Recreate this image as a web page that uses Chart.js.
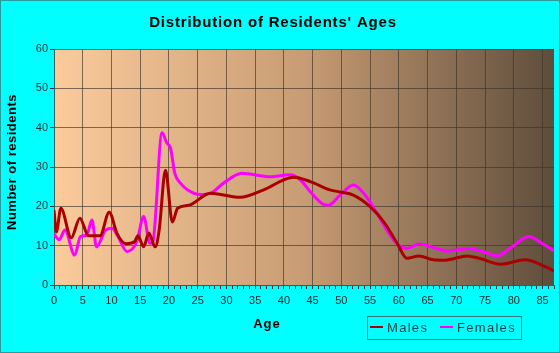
<!DOCTYPE html>
<html>
<head>
<meta charset="utf-8">
<script src="https://cdn.jsdelivr.net/npm/chart.js@4/dist/chart.umd.min.js"></script>
<style>
	html, body { margin: 0; padding: 0; background: #00ffff; }
	#wrap { width: 560px; height: 353px; }
</style>
</head>
<body>
<div id="wrap"><canvas id="graph" width="560" height="353"></canvas></div>
<script>
const maleAges = [0, 0.4, 1.2, 3, 4.5, 6, 8, 9.6, 11, 12.5, 14, 14.6, 15.6, 16.5, 17.6, 18.3, 19.4, 20.6, 21.5, 23.5, 27.2, 29, 32.4, 36.5, 41.7, 44.6, 48, 50, 52, 55, 57.4, 59.7, 61.4, 63.5, 66, 68, 71.9, 74, 77.7, 82, 85, 87];
const maleValues = [19, 13.5, 19.5, 12, 17, 12.5, 12.5, 18.5, 13, 10.5, 11, 12.5, 9.7, 13.2, 9.7, 14, 29.2, 16, 19.5, 20.3, 23.3, 23, 22.3, 24.2, 27.4, 26.3, 24.2, 23.6, 22.9, 19.9, 16, 10.6, 6.8, 7.4, 6.4, 6.3, 7.4, 6.8, 5.3, 6.4, 5, 3.6];

const femaleAges = [0, 0.9, 1.9, 3.6, 4.6, 5.7, 6.6, 7.4, 9, 10.1, 11, 12.7, 14.4, 15.6, 16.7, 17.2, 18.8, 19.6, 20.3, 21, 22, 23.4, 25.4, 27.2, 29.5, 32.7, 37.6, 41, 42.9, 44.6, 46.9, 47.8, 49.8, 52.1, 53.9, 56.2, 59.1, 61.4, 63.5, 67, 68.4, 72.2, 74.5, 77.1, 79.5, 82.6, 85, 87];
const femaleValues = [13, 11.5, 14, 7.6, 12.3, 12.7, 16.5, 9.7, 14, 14.4, 12.7, 8.5, 11, 17.4, 10.6, 11, 38.7, 36.2, 34.7, 28.5, 25.9, 24, 23, 23.3, 25.9, 28.4, 27.5, 28, 26.7, 23.7, 20.5, 20.3, 22.9, 25.4, 23.3, 18.2, 11.4, 9.3, 10.4, 9.1, 8.6, 9.3, 8.5, 7.4, 9.5, 12.3, 10.5, 8.7];

const title = "Distribution of Residents' Ages";
const xTitle = 'Age';
const yTitle = 'Number of residents';
const seriesNames = ['Males', 'Females'];
const seriesColors = ['#aa0000', '#ff00ff'];

const toPoints = (xs, ys) => xs.map((x, i) => ({ x: x, y: ys[i] }));

const gridColor = 'rgba(60,50,40,0.65)';

const decor = {
	id: 'decor',
	beforeDraw(chart) {
		const ctx = chart.ctx;
		const a = chart.chartArea;
		ctx.save();
		ctx.fillStyle = '#00ffff';
		ctx.fillRect(0, 0, chart.width, chart.height);
		const g = ctx.createLinearGradient(a.left, 0, a.right, 0);
		g.addColorStop(0, '#fbcb9c');
		g.addColorStop(0.5, '#c89c74');
		g.addColorStop(1, '#5e4d3c');
		ctx.fillStyle = g;
		ctx.fillRect(a.left, a.top, a.right - a.left, a.bottom - a.top);
		ctx.restore();
	},
	afterDraw(chart) {
		const ctx = chart.ctx;
		ctx.save();
		ctx.fillStyle = '#000';
		ctx.textAlign = 'center';
		ctx.textBaseline = 'middle';

		ctx.letterSpacing = '0.8px';
		ctx.font = 'bold 15px Arial, "Liberation Sans", sans-serif';
		ctx.fillText(title, 273, 23);

		ctx.letterSpacing = '1px';
		ctx.font = 'bold 13px Arial, "Liberation Sans", sans-serif';
		ctx.fillText(xTitle, 267, 324);

		ctx.save();
		ctx.translate(12, 162);
		ctx.rotate(-Math.PI / 2);
		ctx.letterSpacing = '0.5px';
		ctx.fillText(yTitle, 0, 0);
		ctx.restore();

		// legend box
		ctx.strokeStyle = '#2a8080';
		ctx.lineWidth = 1;
		ctx.strokeRect(367.5, 316.5, 154, 23);
		ctx.textAlign = 'left';
		ctx.font = '13px Arial, "Liberation Sans", sans-serif';
		ctx.letterSpacing = '1.3px';
		ctx.fillStyle = '#0d4848';
		const items = [[370, 387], [440, 457]];
		items.forEach((p, i) => {
			ctx.strokeStyle = seriesColors[i];
			ctx.lineWidth = 2;
			ctx.beginPath();
			ctx.moveTo(p[0], 327);
			ctx.lineTo(p[0] + 13, 327);
			ctx.stroke();
			ctx.fillText(seriesNames[i], p[1], 328);
		});

		// outer frame
		ctx.strokeStyle = '#2a9a9a';
		ctx.lineWidth = 1;
		ctx.strokeRect(0.5, 0.5, chart.width - 1, chart.height - 1);
		ctx.restore();
	}
};

const data = {
	datasets: [
		{
			label: seriesNames[0],
			data: toPoints(maleAges, maleValues),
			borderColor: seriesColors[0],
			borderWidth: 3,
			cubicInterpolationMode: 'monotone',
			pointRadius: 0,
			fill: false,
		},
		{
			label: seriesNames[1],
			data: toPoints(femaleAges, femaleValues),
			borderColor: seriesColors[1],
			borderWidth: 3,
			cubicInterpolationMode: 'monotone',
			pointRadius: 0,
			fill: false,
		},
	],
};

const config = {
	type: 'line',
	data: data,
	options: {
		responsive: false,
		animation: false,
		layout: { padding: { top: 49, right: 6, left: 0, bottom: 0 } },
		scales: {
			x: {
				type: 'linear',
				min: 0,
				max: 87,
				afterFit: (s) => { s.height = 68; },
				border: { color: '#2f5f5f', width: 1 },
				grid: {
					color: (c) => (c.tick && c.tick.value % 5 === 0 && c.tick.value > 0 ? gridColor : 'rgba(0,0,0,0)'),
					tickColor: '#2a3a3a',
					tickLength: 4,
				},
				ticks: {
					stepSize: 1,
					autoSkip: false,
					maxRotation: 0,
					padding: 5,
					color: '#1a2a2a',
					font: { family: 'Arial, "Liberation Sans", sans-serif', size: 11 },
					callback: (v) => (v % 5 === 0 ? String(v) : ''),
				},
			},
			y: {
				min: 0,
				max: 60,
				afterFit: (s) => { s.width = 54; },
				border: { color: '#2f5f5f', width: 1 },
				grid: {
					color: (c) => (c.tick && c.tick.value > 0 ? gridColor : 'rgba(0,0,0,0)'),
					tickColor: '#2a3a3a',
					tickLength: 4,
				},
				ticks: {
					stepSize: 10,
					padding: 2,
					color: '#2a3a3a',
					font: { family: 'Arial, "Liberation Sans", sans-serif', size: 11 },
				},
			},
		},
		plugins: {
			legend: { display: false },
			title: { display: false },
			tooltip: { enabled: false },
		},
	},
	plugins: [decor],
};

const c = new Chart(document.getElementById('graph'), config);
</script>
</body>
</html>
